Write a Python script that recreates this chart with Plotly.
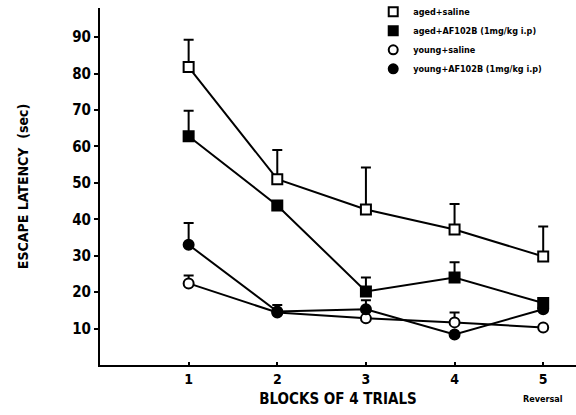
import plotly.graph_objects as go

blocks = [1, 2, 3, 4, 5]
tick_labels = ["1", "2", "3", "4", "5"]

aged_saline = [81.8, 51.0, 42.7, 37.2, 29.8]
aged_saline_err = [7.5, 8.0, 11.5, 7.0, 8.2]

aged_af = [62.8, 43.8, 20.2, 24.0, 17.0]
aged_af_err = [7.0, 0.0, 3.8, 4.2, 0.0]

young_saline = [22.4, 14.4, 12.8, 11.7, 10.3]
young_saline_err = [2.2, 0.0, 0.0, 2.7, 0.0]

young_af = [33.0, 14.7, 15.3, 8.4, 15.3]
young_af_err = [6.0, 1.8, 2.5, 0.0, 0.0]

series = [
    ("aged+saline", aged_saline, aged_saline_err, "square", "white"),
    ("aged+AF102B (1mg/kg i.p)", aged_af, aged_af_err, "square", "black"),
    ("young+saline", young_saline, young_saline_err, "circle", "white"),
    ("young+AF102B (1mg/kg i.p)", young_af, young_af_err, "circle", "black"),
]

FONT = "Liberation Sans Narrow, DejaVu Sans Condensed, Arial"

fig = go.Figure()
for name, vals, err, sym, fill in series:
    fig.add_trace(go.Scatter(
        x=blocks, y=vals, mode="lines+markers", showlegend=False,
        line=dict(color="black", width=2),
        marker=dict(symbol=sym, size=10, color=fill, line=dict(color="black", width=2)),
        error_y=dict(type="data", array=err, arrayminus=[0]*len(err), symmetric=False,
                     color="black", thickness=2, width=5),
    ))
for name, vals, err, sym, fill in series:
    fig.add_trace(go.Scatter(
        x=[None], y=[None], mode="markers", name="<b>%s</b>" % name,
        marker=dict(symbol=sym, size=9, color=fill, line=dict(color="black", width=2)),
    ))

fig.update_layout(
    width=576, height=415,
    margin=dict(l=100, r=0, t=8, b=50, autoexpand=False),
    paper_bgcolor="white", plot_bgcolor="white",
    font=dict(family=FONT, color="black"),
    showlegend=True,
    legend=dict(x=0.574, y=1.03, xanchor="left", yanchor="top",
                font=dict(size=9, family=FONT), bgcolor="rgba(0,0,0,0)",
                tracegroupgap=0, itemwidth=30),
    xaxis=dict(range=[0, 5.37], tickvals=blocks, ticktext=["<b>%s</b>" % t for t in tick_labels],
               showline=True, linecolor="black", linewidth=2, showgrid=False, zeroline=False,
               ticks="inside", ticklen=3, tickwidth=2, tickcolor="black",
               tickfont=dict(size=14, family=FONT),
               title=dict(text="<b>BLOCKS OF 4 TRIALS</b>", font=dict(size=15, family=FONT), standoff=8)),
    yaxis=dict(range=[0, 98], tickvals=[10, 20, 30, 40, 50, 60, 70, 80, 90],
               ticktext=["<b>%d</b>" % v for v in [10, 20, 30, 40, 50, 60, 70, 80, 90]],
               showline=True, linecolor="black", linewidth=2, showgrid=False, zeroline=False,
               ticks="outside", ticklen=4, tickwidth=2, tickcolor="black",
               tickfont=dict(size=15, family=FONT),
               title=dict(text="<b>ESCAPE LATENCY  (sec)</b>", font=dict(size=14, family=FONT), standoff=40)),
)
fig.add_annotation(x=5, y=0, xref="x", yref="paper", yshift=-27, text="<b>Reversal</b>",
                   showarrow=False, font=dict(size=9, family=FONT), xanchor="center", yanchor="top")

fig.write_html("out.html")
